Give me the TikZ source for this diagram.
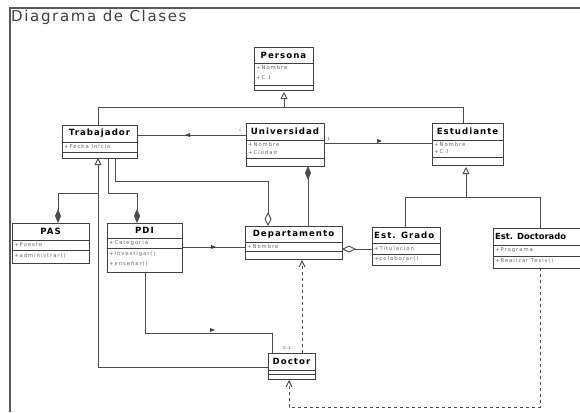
\documentclass[tikz,border=0pt]{standalone}
\usepackage{fontspec}
\setmainfont{DejaVu Sans}
\newfontfamily\boxtitlefont[LetterSpace=12]{DejaVu Sans}
\newfontfamily\boxitemfont[LetterSpace=18]{DejaVu Sans}
\newfontfamily\headfont[LetterSpace=11]{DejaVu Sans}
\usetikzlibrary{arrows.meta}
\begin{document}
\begin{tikzpicture}[x=1pt,y=-1pt,
  box/.style={draw=black!75,line width=1pt,fill=white},
  sep/.style={draw=black!75,line width=0.6pt},
  ttl/.style={font=\boxtitlefont\bfseries\fontsize{8.6}{9}\selectfont,inner sep=0pt},
  itm/.style={font=\boxitemfont\fontsize{5.3}{6}\selectfont,text=black!60,inner sep=0pt,anchor=west},
  lnk/.style={draw=black!70,line width=0.9pt},
  dsh/.style={draw=black!70,line width=0.9pt,dash pattern=on 3pt off 3pt},
  gen/.style={-{Triangle[open,length=7pt,width=7pt]}},
  comp/.style={-{Diamond[length=14pt,width=6pt]}},
  aggr/.style={-{Diamond[open,length=14pt,width=7pt]}},
  dep/.style={-{Straight Barb[length=6pt,width=6pt]}},
  mk/.style={font=\fontsize{4}{4}\selectfont,text=black!70,inner sep=0pt}]
\useasboundingbox (0,0) rectangle (580,412);
\fill[white] (0,0) rectangle (580,412);
% frame
\draw[black!65,line width=1.3pt] (10,412) -- (10,8) -- (580,8);
\node[anchor=north west,inner sep=0pt,font=\headfont\fontsize{15}{16}\selectfont,text=black!75] (title) at (11,9.5) {Diagrama de Clases};

% class box: name, corners, title-row separator
\newcommand{\umlbox}[6]{%
  \draw[box] (#2,#3) rectangle (#4,#5);
  \draw[sep] (#2,#6) -- (#4,#6);
  \coordinate (#1-nw) at (#2,#3);
  \coordinate (#1-se) at (#4,#5);
}

% connectors (drawn first, boxes on top)
\coordinate (g1) at (98,107);
\coordinate (g2) at (463,107);
\draw[lnk] (g1) -- (g2);
\draw[lnk] (98,125) -- (g1);
\draw[lnk] (463,123) -- (g2);
\draw[lnk,gen] (284,107) -- (284,92);

% Trabajador - Universidad
\draw[lnk] (137,135) -- (246,135);
\fill[black!75] (185,135) -- (190,133) -- (190,137) -- cycle;
\node[mk] at (240,131) {*};
% Universidad - Estudiante
\draw[lnk] (324,143) -- (432,143);
\fill[black!75] (382,141) -- (377,139) -- (377,143) -- cycle;
\node[mk] at (329,139) {1};

% Estudiante generalization
\draw[lnk,gen] (466,197) -- (466,167);
\draw[lnk] (405,227) -- (405,197) -- (540,197) -- (540,228);

% Trabajador generalization to Doctor
\draw[lnk,gen] (98,367) -- (98,158);
\draw[lnk] (98,367) -- (268,367);

% Trabajador to PAS / PDI compositions
\draw[lnk,comp] (98,193) -- (58,193) -- (58,223);
\draw[lnk,comp] (108,158) -- (108,193) -- (137,193) -- (137,223);

% Trabajador to Departamento aggregation
\draw[lnk,aggr] (115,158) -- (115,181) -- (268,181) -- (268,226);

% Universidad composes Departamento
\draw[lnk,comp] (308,226) -- (308,166);

% PDI - Departamento
\draw[lnk] (182,247) -- (245,247);
\fill[black!75] (216,247) -- (211,245) -- (211,249) -- cycle;

% Departamento - Est. Grado aggregation
\draw[lnk,aggr] (372,249) -- (342,249);

% PDI - Doctor
\draw[lnk] (145,272) -- (145,333) -- (272,333) -- (272,353);
\fill[black!75] (215,330) -- (210,328) -- (210,332) -- cycle;
\node[mk] at (287,348) {0..1};

% dependencies
\draw[dsh,dep] (302,353) -- (302,260);
\draw[dsh,dep] (540,268) -- (540,407) -- (289,407) -- (289,380);

% Persona
\umlbox{per}{254}{48}{313}{90}{63}
\draw[sep] (254,85) -- (313,85);
\node[ttl] (pername) at (283.5,55.5) {Persona};
\node[itm] at (256,68) {+Nombre};
\node[itm] at (256,78) {+C.I};

% Trabajador
\umlbox{tra}{62}{125}{137}{158}{142}
\draw[sep] (62,152) -- (137,152);
\node[ttl] (traname) at (99.5,133.5) {Trabajador};
\node[itm] at (64,147) {+Fecha Inicio};

% Universidad
\umlbox{uni}{246}{123}{324}{166}{140}
\draw[sep] (246,158) -- (324,158);
\node[ttl] (uniname) at (285,131.5) {Universidad};
\node[itm] at (248,145) {+Nombre};
\node[itm] at (248,153) {+Ciudad};

% Estudiante
\umlbox{est}{432}{123}{503}{165}{140}
\draw[sep] (432,157) -- (503,157);
\node[ttl] (estname) at (467.5,131.5) {Estudiante};
\node[itm] at (434,145) {+Nombre};
\node[itm] at (434,152) {+C.I};

% PAS
\umlbox{pas}{12}{223}{89}{263}{240}
\draw[sep] (12,250) -- (89,250);
\node[ttl] (pasname) at (50.5,231.5) {PAS};
\node[itm] at (14,245) {+Puesto};
\node[itm] at (14,256) {+administrar()};

% PDI
\umlbox{pdi}{107}{223}{182}{272}{238}
\draw[sep] (107,248) -- (182,248);
\node[ttl] (pdiname) at (144.5,230.5) {PDI};
\node[itm] at (109,243) {+Categoria};
\node[itm] at (109,254) {+investigar()};
\node[itm] at (109,264) {+enseñar()};

% Departamento
\umlbox{dep}{245}{226}{342}{259}{242}
\draw[sep] (245,251) -- (342,251);
\node[ttl] (depname) at (293.5,234) {Departamento};
\node[itm] at (247,246.5) {+Nombre};

% Est. Grado
\umlbox{egr}{372}{227}{440}{265}{243}
\draw[sep] (372,254) -- (440,254);
\node[ttl,anchor=west] (egrname) at (374,235) {Est. Grado};
\node[itm] at (374,248.5) {+Titulacion};
\node[itm] at (374,259) {+colaborar()};

% Est. Doctorado (box runs past the right edge of the frame)
\umlbox{edo}{493}{228}{590}{268}{245}
\draw[sep] (493,256) -- (590,256);
\node[anchor=west,inner sep=0pt,font=\bfseries\fontsize{8.4}{9}\selectfont] (edoname) at (495,236.5) {Est. Doctorado};
\node[itm] at (495,250.5) {+Programa};
\node[itm] at (495,261) {+Realizar Tesis()};

% Doctor
\umlbox{doc}{268}{353}{315}{379}{370}
\draw[sep] (268,374) -- (315,374);
\node[ttl] (docname) at (291.5,361.5) {Doctor};
\end{tikzpicture}
\end{document}
